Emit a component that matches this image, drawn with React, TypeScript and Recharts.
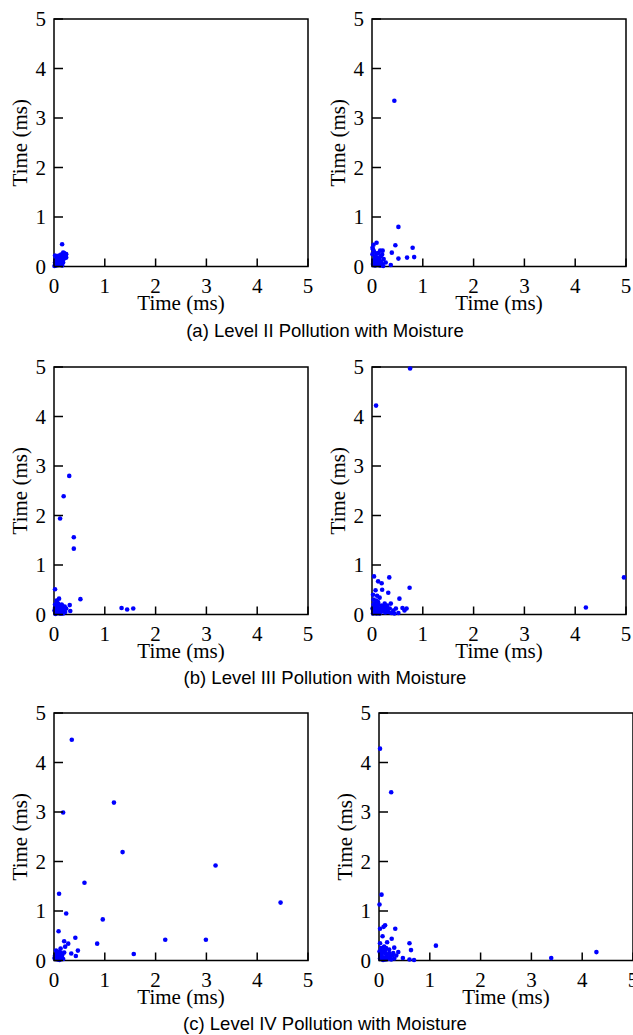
import React from "react";
import { ScatterChart, Scatter, XAxis, YAxis, ReferenceArea, Label } from "recharts";

type Pt = [number, number];

const TICKS = [0, 1, 2, 3, 4, 5];
const AXIS_TITLE = "Time (ms)";
const CAPTIONS = [
  "(a) Level II Pollution with Moisture",
  "(b) Level III Pollution with Moisture",
  "(c) Level IV Pollution with Moisture",
];

// (a) Level II
const level2Left: Pt[] = [
  [0.16, 0.45], [0.2, 0.27], [0.24, 0.25], [0.22, 0.2], [0.18, 0.28], [0.14, 0.24],
  [0.1, 0.22], [0.05, 0.2], [0.03, 0.15], [0.02, 0.08], [0.06, 0.1], [0.1, 0.12],
  [0.12, 0.05], [0.15, 0.15], [0.08, 0.03], [0.04, 0.02], [0.01, 0.01], [0.18, 0.08],
  [0.2, 0.16], [0.24, 0.18], [0.13, 0.18], [0.07, 0.16], [0.02, 0.22], [0.16, 0.02],
  [0.11, 0.07], [0.04, 0.12], [0.08, 0.2], [0.12, 0.14], [0.17, 0.12], [0.22, 0.24],
  [0.06, 0.06], [0.14, 0.09], [0.09, 0.15], [0.19, 0.21], [0.03, 0.05],
];
const level2Right: Pt[] = [
  [0.44, 3.35], [0.52, 0.8], [0.46, 0.43], [0.8, 0.38], [0.39, 0.28], [0.52, 0.16],
  [0.69, 0.18], [0.83, 0.19], [0.37, 0.03], [0.09, 0.48], [0.03, 0.44], [0.16, 0.32],
  [0.21, 0.32], [0.12, 0.27], [0.2, 0.24], [0.23, 0.15], [0.27, 0.08], [0.02, 0.35],
  [0.01, 0.25], [0.04, 0.3], [0.06, 0.2], [0.03, 0.12], [0.08, 0.1], [0.1, 0.18],
  [0.14, 0.14], [0.18, 0.1], [0.12, 0.04], [0.06, 0.02], [0.02, 0.05], [0.16, 0.02],
  [0.2, 0.05], [0.09, 0.26], [0.05, 0.15], [0.13, 0.08], [0.22, 0.01], [0.01, 0.38],
  [0.17, 0.2], [0.04, 0.08], [0.08, 0.04], [0.11, 0.12], [0.15, 0.06], [0.07, 0.15],
];

// (b) Level III
const level3Left: Pt[] = [
  [0.3, 2.8], [0.19, 2.39], [0.12, 1.94], [0.39, 1.56], [0.39, 1.33], [0.52, 0.31],
  [0.31, 0.19], [0.32, 0.07], [1.33, 0.13], [1.44, 0.1], [1.56, 0.12], [0.02, 0.51],
  [0.1, 0.32], [0.05, 0.28], [0.02, 0.2], [0.04, 0.15], [0.08, 0.22], [0.12, 0.18],
  [0.15, 0.12], [0.2, 0.1], [0.22, 0.05], [0.18, 0.02], [0.1, 0.05], [0.05, 0.03],
  [0.01, 0.08], [0.07, 0.1], [0.13, 0.08], [0.16, 0.18], [0.03, 0.01], [0.1, 0.13],
  [0.19, 0.15], [0.06, 0.18], [0.14, 0.02], [0.24, 0.12], [0.04, 0.07], [0.08, 0.14],
  [0.12, 0.02], [0.17, 0.07], [0.21, 0.16], [0.06, 0.24], [0.02, 0.13], [0.15, 0.2],
];
const level3Right: Pt[] = [
  [0.75, 4.97], [0.08, 4.22], [4.96, 0.75], [4.21, 0.14], [0.34, 0.75], [0.04, 0.77],
  [0.74, 0.54], [0.12, 0.67], [0.19, 0.63], [0.2, 0.5], [0.07, 0.49], [0.32, 0.44],
  [0.54, 0.32], [0.15, 0.34], [0.1, 0.38], [0.37, 0.22], [0.47, 0.12], [0.52, 0.03],
  [0.64, 0.08], [0.68, 0.12], [0.6, 0.13], [0.02, 0.4], [0.03, 0.3], [0.05, 0.22],
  [0.08, 0.28], [0.12, 0.2], [0.18, 0.18], [0.24, 0.15], [0.28, 0.1], [0.32, 0.05],
  [0.38, 0.03], [0.42, 0.08], [0.2, 0.06], [0.1, 0.1], [0.05, 0.05], [0.01, 0.12],
  [0.15, 0.02], [0.25, 0.22], [0.3, 0.18], [0.44, 0.02], [0.35, 0.12], [0.06, 0.15],
  [0.14, 0.12], [0.22, 0.1], [0.09, 0.02], [0.02, 0.02], [0.04, 0.1], [0.08, 0.06],
  [0.12, 0.25], [0.17, 0.09], [0.26, 0.04], [0.2, 0.14], [0.03, 0.2], [0.1, 0.16],
  [0.14, 0.06], [0.29, 0.13],
];

// (c) Level IV
const level4Left: Pt[] = [
  [0.35, 4.46], [1.18, 3.19], [0.18, 2.99], [1.35, 2.19], [3.18, 1.92], [0.6, 1.57],
  [0.1, 1.35], [4.46, 1.17], [0.24, 0.95], [0.96, 0.83], [0.09, 0.59], [0.2, 0.39],
  [0.42, 0.46], [0.28, 0.34], [0.85, 0.34], [0.22, 0.28], [2.19, 0.42], [2.99, 0.42],
  [1.57, 0.13], [0.47, 0.2], [0.34, 0.14], [0.43, 0.09], [0.13, 0.24], [0.2, 0.16],
  [0.02, 0.1], [0.05, 0.15], [0.08, 0.08], [0.1, 0.18], [0.12, 0.12], [0.15, 0.05],
  [0.03, 0.03], [0.07, 0.02], [0.11, 0.01], [0.16, 0.1], [0.04, 0.2], [0.09, 0.05],
  [0.13, 0.16], [0.01, 0.05], [0.18, 0.03], [0.06, 0.12], [0.1, 0.09],
];
const level4Right: Pt[] = [
  [0.02, 4.28], [0.24, 3.4], [0.05, 1.33], [0.01, 1.13], [0.32, 0.64], [0.12, 0.71],
  [0.09, 0.68], [0.02, 0.64], [0.07, 0.49], [0.25, 0.44], [0.6, 0.35], [1.12, 0.3],
  [0.63, 0.21], [4.28, 0.17], [3.39, 0.05], [0.16, 0.37], [0.3, 0.26], [0.38, 0.17],
  [0.47, 0.05], [0.6, 0.02], [0.69, 0.01], [0.02, 0.35], [0.04, 0.25], [0.06, 0.18],
  [0.1, 0.28], [0.12, 0.2], [0.15, 0.12], [0.2, 0.15], [0.22, 0.08], [0.26, 0.1],
  [0.3, 0.04], [0.18, 0.03], [0.1, 0.06], [0.05, 0.1], [0.02, 0.04], [0.08, 0.01],
  [0.14, 0.25], [0.24, 0.02], [0.34, 0.1], [0.01, 0.18], [0.12, 0.14], [0.04, 0.14],
  [0.08, 0.21], [0.16, 0.07], [0.2, 0.22], [0.28, 0.15], [0.06, 0.05], [0.13, 0.02],
];

const PLOT_W = 254;
const PLOT_H = 247.5;
const PAD_L = 54;
const PAD_T = 20;
const PAD_R = 14;
const PAD_B = 50;
const SERIF = "'Liberation Serif', 'Times New Roman', serif";
const FONT_SIZE = 21;

const XTick = (props: any) => {
  const { x, payload } = props;
  const y = PAD_T + PLOT_H;
  return (
    <g>
      <line x1={x} x2={x} y1={y} y2={y - 8} stroke="#000" strokeWidth={1.5} />
      <text x={x} y={y + 26} textAnchor="middle" fontFamily={SERIF} fontSize={FONT_SIZE} fill="#000">
        {payload.value}
      </text>
    </g>
  );
};

const YTick = (props: any) => {
  const { y, payload } = props;
  const x = PAD_L;
  return (
    <g>
      <line x1={x} x2={x + 9} y1={y} y2={y} stroke="#000" strokeWidth={1.5} />
      <text x={x - 8} y={y} textAnchor="end" dominantBaseline="central" fontFamily={SERIF} fontSize={FONT_SIZE} fill="#000">
        {payload.value}
      </text>
    </g>
  );
};

const XTitle = () => (
  <text x={PAD_L + PLOT_W / 2} y={PAD_T + PLOT_H + 43} textAnchor="middle" fontFamily={SERIF} fontSize={FONT_SIZE} fill="#000">
    {AXIS_TITLE}
  </text>
);

const YTitle = () => {
  const cx = PAD_L - 34;
  const cy = PAD_T + PLOT_H / 2;
  return (
    <text x={cx} y={cy} transform={`rotate(-90 ${cx} ${cy})`} textAnchor="middle" dominantBaseline="central" fontFamily={SERIF} fontSize={FONT_SIZE} fill="#000">
      {AXIS_TITLE}
    </text>
  );
};

const Dot = (props: any) => <circle cx={props.cx} cy={props.cy} r={2.3} fill="#0000ff" />;

const Panel = ({ points, left, top }: { points: Pt[]; left: number; top: number }) => {
  const data = points.map(([x, y]) => ({ x, y }));
  return (
    <div style={{ position: "absolute", left: left - PAD_L, top: top - PAD_T }}>
      <ScatterChart
        width={PAD_L + PLOT_W + PAD_R}
        height={PAD_T + PLOT_H + PAD_B}
        margin={{ top: PAD_T, right: PAD_R, bottom: 0, left: 0 }}
      >
        <XAxis
          type="number"
          dataKey="x"
          domain={[0, 5]}
          ticks={TICKS}
          interval={0}
          height={PAD_B}
          axisLine={false}
          tickLine={false}
          tickSize={0}
          tickMargin={0}
          tick={<XTick />}
        >
          <Label content={<XTitle />} />
        </XAxis>
        <YAxis
          type="number"
          dataKey="y"
          domain={[0, 5]}
          ticks={TICKS}
          interval={0}
          width={PAD_L}
          axisLine={false}
          tickLine={false}
          tickSize={0}
          tickMargin={0}
          tick={<YTick />}
        >
          <Label content={<YTitle />} />
        </YAxis>
        <ReferenceArea x1={0} x2={5} y1={0} y2={5} fill="none" stroke="#000" strokeWidth={1.5} />
        <Scatter data={data} shape={<Dot />} isAnimationActive={false} />
      </ScatterChart>
    </div>
  );
};

const PANELS = [
  { points: level2Left, left: 54.3, top: 19.3 },
  { points: level2Right, left: 371.7, top: 19.3 },
  { points: level3Left, left: 54, top: 366.7 },
  { points: level3Right, left: 372, top: 366.7 },
  { points: level4Left, left: 54, top: 713.3 },
  { points: level4Right, left: 379, top: 713.3 },
];

const CAPTION_TOPS = [321.8, 668.8, 1015.3];

export default function App() {
  return (
    <div
      style={{
        position: "absolute",
        left: 0,
        top: 0,
        width: 633,
        height: 1035,
        overflow: "hidden",
        background: "#fff",
      }}
    >
      {PANELS.map((p, i) => (
        <Panel key={i} points={p.points} left={p.left} top={p.top} />
      ))}
      {CAPTIONS.map((c, i) => (
        <div
          key={c}
          style={{
            position: "absolute",
            left: 325,
            top: CAPTION_TOPS[i],
            transform: "translateX(-50%)",
            whiteSpace: "nowrap",
            fontFamily: "'Liberation Sans', Arial, sans-serif",
            fontSize: 18.5,
            lineHeight: 1,
            color: "#000",
          }}
        >
          {c}
        </div>
      ))}
    </div>
  );
}
